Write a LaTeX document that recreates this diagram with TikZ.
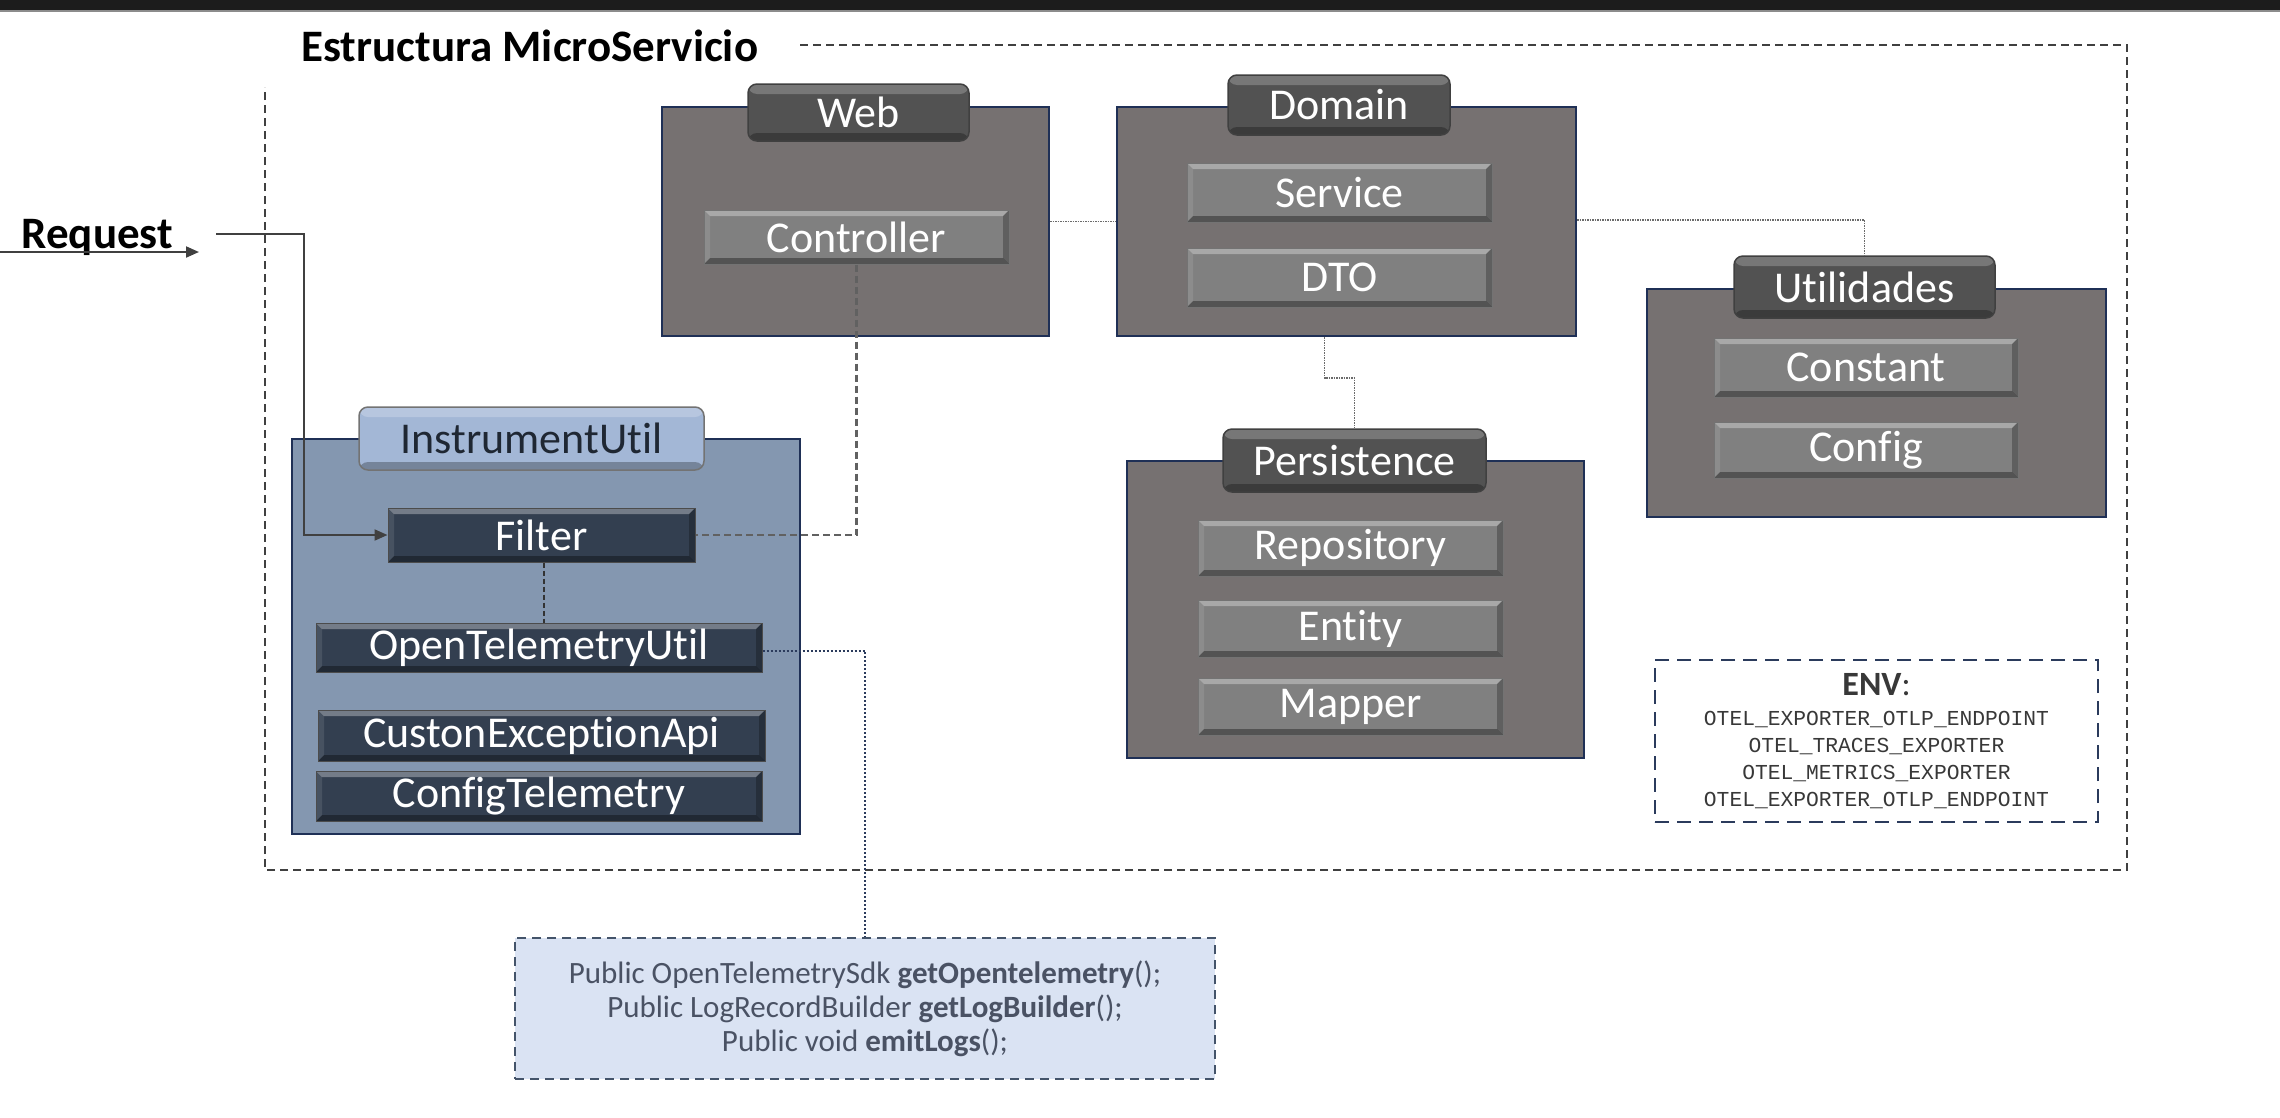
\documentclass[tikz,border=0pt]{standalone}
\usepackage{fontspec}
\setmainfont{Carlito}[Ligatures={NoCommon}, RawFeature=-liga, RawFeature=-clig, RawFeature=-dlig, RawFeature=-calt]
\newfontfamily\envmono{Liberation Mono}
\usetikzlibrary{arrows.meta}
\definecolor{contfill}{HTML}{767171}
\definecolor{contline}{HTML}{1F3056}
\definecolor{tabfill}{HTML}{525252}
\definecolor{btnfill}{HTML}{808080}
\definecolor{instfill}{HTML}{8497B0}
\definecolor{insttab}{HTML}{A3B7D6}
\definecolor{slate}{HTML}{333F50}
\definecolor{codefill}{HTML}{DAE3F3}
\definecolor{codeline}{HTML}{44546A}
\definecolor{codetext}{HTML}{4A5264}
\definecolor{envline}{HTML}{2B3B5C}
\definecolor{framecol}{HTML}{404040}
\definecolor{topbar}{HTML}{1C1C1C}
\definecolor{insttext}{HTML}{1F2733}
\newcommand{\labfont}{\fontsize{44}{50}\selectfont}
\newcommand{\ttlfont}{\fontsize{45}{50}\selectfont\bfseries}
\tikzset{
  bevel/.style={path picture={
    \path (path picture bounding box.north west) coordinate (bnw)
          (path picture bounding box.north east) coordinate (bne)
          (path picture bounding box.south west) coordinate (bsw)
          (path picture bounding box.south east) coordinate (bse);
    \fill[white,opacity=.32] (bnw) -- (bne) -- ([shift={(-6pt,-6pt)}]bne) -- ([shift={(6pt,-6pt)}]bnw) -- cycle;
    \fill[black,opacity=.35] (bsw) -- (bse) -- ([shift={(-6pt,6pt)}]bse) -- ([shift={(6pt,6pt)}]bsw) -- cycle;
    \fill[black,opacity=.25] (bne) -- (bse) -- ([shift={(-6pt,6pt)}]bse) -- ([shift={(-6pt,-6pt)}]bne) -- cycle;
    \fill[white,opacity=.10] (bnw) -- (bsw) -- ([shift={(6pt,6pt)}]bsw) -- ([shift={(6pt,-6pt)}]bnw) -- cycle;
  }},
  tabgloss/.style={path picture={
    \path (path picture bounding box.north west) coordinate (bnw)
          (path picture bounding box.north east) coordinate (bne)
          (path picture bounding box.south west) coordinate (bsw)
          (path picture bounding box.south east) coordinate (bse);
    \fill[white,opacity=.22] (bnw) rectangle ([yshift=-10pt]bne);
    \fill[black,opacity=.28] ([yshift=8pt]bsw) rectangle (bse);
  }},
  cont/.style={draw=contline, line width=2pt, fill=contfill, inner sep=0pt},
  tabbox/.style={draw=black!75, line width=1.5pt, fill=tabfill, rounded corners=9pt,
    tabgloss, text=white, font=\labfont, inner sep=0pt},
  btn/.style={draw=black!55, line width=1pt, fill=btnfill, bevel, text=white,
    font=\labfont, inner sep=0pt},
  slatebtn/.style={draw=black!70, line width=1pt, fill=slate, bevel, text=white,
    font=\labfont, inner sep=0pt},
  frame/.style={draw=framecol, line width=1.8pt, dash pattern=on 8pt off 5pt},
  reqline/.style={draw=black!75, line width=2pt, -{Triangle[length=13pt,width=11pt]}},
  dotgray/.style={draw=black!58, line width=1.8pt, dash pattern=on 1.5pt off 1pt},
  dashgray/.style={draw=black!62, line width=2.6pt, dash pattern=on 7pt off 4pt},
  dashdark/.style={draw=black!80, line width=2pt, dash pattern=on 5pt off 3pt},
  dotblue/.style={draw=envline, line width=2pt, dash pattern=on 2pt off 2pt},
}
\begin{document}
\begin{tikzpicture}[x=1pt,y=-1pt]
\useasboundingbox (0,0) rectangle (2280,1117);
\fill[white] (0,0) rectangle (2280,1117);
% top bar
\fill[topbar] (0,0) rectangle (2280,10);
\draw[black!45, line width=1.5pt] (0,10.8) -- (2280,10.8);

% outer frame and title
\draw[frame] (800,45) -- (2127,45) -- (2127,870) -- (265,870) -- (265,87);
\node[anchor=base west, font=\ttlfont, text=black] (title) at (298,61) {Estructura MicroServicio};

% containers
\node[cont, minimum width=387pt, minimum height=229pt] (webc) at (855.5,221.5) {};
\node[cont, minimum width=459pt, minimum height=229pt] (domc) at (1346.5,221.5) {};
\node[cont, minimum width=459pt, minimum height=228pt] (utilc) at (1876.5,403) {};
\node[cont, minimum width=457pt, minimum height=297pt] (persc) at (1355.5,609.5) {};
\node[draw=contline, line width=2pt, fill=instfill, inner sep=0pt, minimum width=508pt, minimum height=395pt] (instc) at (546,636.5) {};

% tabs
\node[tabbox, minimum width=221pt, minimum height=57pt] (webtab) at (858.5,112.5) {Web};
\node[tabbox, minimum width=222pt, minimum height=60pt] (domtab) at (1339,105) {Domain};
\node[tabbox, minimum width=261pt, minimum height=62pt] (utiltab) at (1864.5,287) {Utilidades};
\node[tabbox, minimum width=263pt, minimum height=63pt] (perstab) at (1354.5,460.5) {Persistence};
\node[tabbox, fill=insttab, draw=black!55, text=insttext, minimum width=345pt, minimum height=63pt] (insttab) at (531.5,438.5) {InstrumentUtil};

% gray buttons
\node[btn, minimum width=305pt, minimum height=54pt] (ctrl) at (856.5,237) {Controller};
\node[btn, minimum width=305pt, minimum height=59pt] (serv) at (1339.5,192.5) {Service};
\node[btn, minimum width=305pt, minimum height=59pt] (dto) at (1339.5,277.5) {DTO};
\node[btn, minimum width=304pt, minimum height=59pt] (const) at (1866,367.5) {Constant};
\node[btn, minimum width=304pt, minimum height=56pt] (conf) at (1866,450) {Config};
\node[btn, minimum width=305pt, minimum height=56pt] (repo) at (1350.5,548) {Repository};
\node[btn, minimum width=305pt, minimum height=57pt] (ent) at (1350.5,628.5) {Entity};
\node[btn, minimum width=305pt, minimum height=57pt] (map) at (1350.5,706.5) {Mapper};

% slate buttons
\node[slatebtn, minimum width=307pt, minimum height=54pt] (filter) at (541.5,535) {Filter};
\node[slatebtn, minimum width=446pt, minimum height=49pt] (otu) at (539,647.5) {OpenTelemetryUtil};
\node[slatebtn, minimum width=447pt, minimum height=51pt] (cexc) at (541.5,735.5) {CustonExceptionApi};
\node[slatebtn, minimum width=446pt, minimum height=50pt] (ctel) at (539,796) {ConfigTelemetry};

% ENV box
\node[draw=envline, line width=2.5pt, dash pattern=on 14pt off 8pt, fill=white,
      minimum width=443pt, minimum height=162pt, inner sep=0pt, align=center,
      text=black!78, font=\fontsize{21.3}{27}\selectfont\envmono] (env) at (1876.5,741)
  {{\fontsize{34}{34}\selectfont\rmfamily\textbf{ENV}:}\\[3pt]
   OTEL\_EXPORTER\_OTLP\_ENDPOINT\\
   OTEL\_TRACES\_EXPORTER\\
   OTEL\_METRICS\_EXPORTER\\
   OTEL\_EXPORTER\_OTLP\_ENDPOINT};

% code box
\node[draw=codeline, line width=2pt, dash pattern=on 9pt off 6pt, fill=codefill,
      minimum width=700pt, minimum height=141pt, inner sep=0pt, align=center,
      text=codetext, font=\fontsize{31}{34}\selectfont] (code) at (865,1008.5)
  {Public OpenTelemetrySdk \textbf{getOpentelemetry}();\\
   Public LogRecordBuilder \textbf{getLogBuilder}();\\
   Public void \textbf{emitLogs}();};

% request
\node[anchor=base west, font=\ttlfont, text=black] (req) at (18,248) {Request};
\coordinate (reqa) at (0,252);
\coordinate (reqb) at (199,252);
\draw[reqline] (reqa) -- (reqb);
\coordinate (reqc) at (216,234);
\draw[reqline] (reqc) -- (304,234) |- (filter.west);

% connectors
\draw[dotgray] (webc.east) -- (domc.west);
\draw[dotgray] ([yshift=1.5pt]domc.east) -| (utiltab.north);
\draw[dotgray] ([xshift=-22pt]domc.south) -- ++(0,41) -| (perstab.north);
\draw[dashgray] (ctrl.south) |- (filter.east);
\draw[dashdark] ([xshift=2pt]filter.south) -- ([xshift=2pt]filter.south |- otu.north);
\draw[dotblue] ([yshift=-3pt]otu.east) -| (code.north);
\end{tikzpicture}
\end{document}
